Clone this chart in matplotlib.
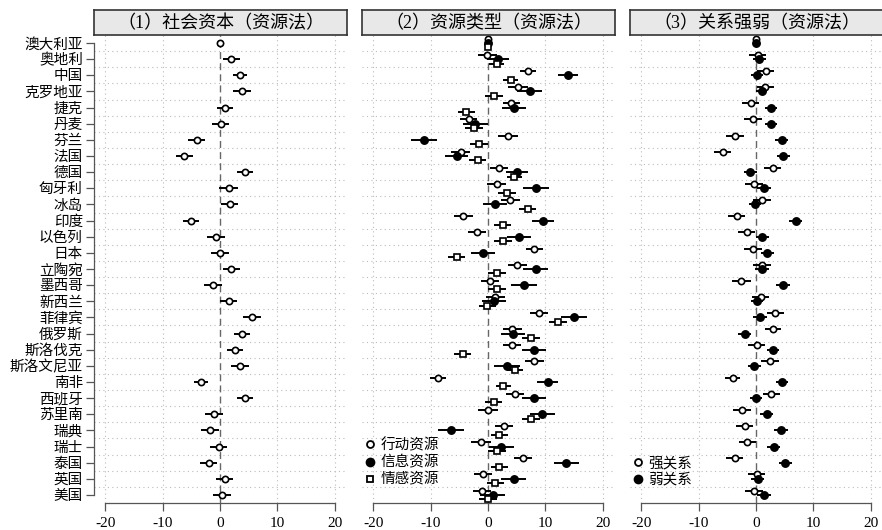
import matplotlib
matplotlib.use("Agg")
import matplotlib.pyplot as plt
from matplotlib.lines import Line2D
import numpy as np

plt.rcParams['font.family'] = ['Liberation Serif', 'Noto Sans CJK SC']

countries = ['澳大利亚', '奥地利', '中国', '克罗地亚', '捷克', '丹麦', '芬兰', '法国', '德国',
             '匈牙利', '冰岛', '印度', '以色列', '日本', '立陶宛', '墨西哥', '新西兰', '菲律宾',
             '俄罗斯', '斯洛伐克', '斯洛文尼亚', '南非', '西班牙', '苏里南', '瑞典', '瑞士',
             '泰国', '英国', '美国']

titles = ['（1）社会资本（资源法）', '（2）资源类型（资源法）', '（3）关系强弱（资源法）']
xticks = [-20, -10, 0, 10, 20]

# (1) social capital
social = [0, 2.0, 3.5, 3.8, 0.9, 0.1, -4.1, -6.2, 4.3, 1.5, 1.7, -5.1, -0.7, 0.0, 2.0,
          -1.2, 1.5, 5.6, 3.9, 2.6, 3.5, -3.3, 4.4, -1.0, -1.7, -0.2, -2.0, 0.8, 0.4]
social_ci = [0, 1.45, 1.25, 1.6, 1.45, 1.5, 1.55, 1.45, 1.4, 1.6, 1.5, 1.4, 1.55, 1.55, 1.55,
             1.6, 1.5, 1.5, 1.4, 1.45, 1.55, 1.25, 1.4, 1.6, 1.6, 1.5, 1.5, 1.5, 1.55]

# (2) resource types
action = [0, -0.1, 7.0, 5.2, 4.1, -3.4, 3.5, -4.8, 1.9, 1.5, 3.9, -4.3, -1.9, 8.1, 5.1,
          0.3, 1.3, 8.9, 4.2, 4.2, 8.1, -8.7, 4.7, 0.0, 2.8, -1.2, 6.1, -0.9, -1.0]
action_ci = [0, 1.6, 1.35, 1.75, 1.45, 1.5, 1.75, 1.6, 1.6, 1.65, 1.6, 1.6, 1.6, 1.55, 1.65,
             1.6, 1.6, 1.6, 1.65, 1.5, 1.7, 1.45, 1.55, 1.7, 1.65, 1.7, 1.6, 1.6, 1.6]
info = [0, 1.7, 14.0, 7.3, 4.5, -2.2, -11.2, -5.5, 5.1, 8.4, 1.3, 9.6, 5.4, -0.9, 8.3,
        6.3, 1.0, 15.0, 4.4, 8.0, 3.3, 10.4, 8.0, 9.5, -6.4, 2.3, 13.7, 4.5, 0.8]
info_ci = [0, 1.9, 1.7, 2.15, 2.05, 2.25, 2.3, 1.95, 1.95, 2.25, 2.1, 2.0, 2.1, 2.1, 2.25,
           2.25, 2.1, 2.2, 2.1, 2.15, 2.3, 1.8, 2.15, 2.25, 2.25, 2.2, 2.2, 2.15, 2.2]
emotion = [0, 1.5, 4.0, 1.0, -3.8, -2.5, -1.6, -1.8, 4.6, 3.3, 6.9, 2.6, 2.6, -5.5, 1.6,
           1.6, -0.1, 12.2, 7.5, -4.4, 4.7, 2.7, 1.0, 7.5, 2.0, 1.6, 2.0, 1.3, 0.0]
emotion_ci = [0, 1.35, 1.3, 1.6, 1.45, 1.55, 1.6, 1.5, 1.25, 1.55, 1.5, 1.5, 1.55, 1.5, 1.6,
              1.6, 1.55, 1.55, 1.5, 1.45, 1.45, 1.3, 1.45, 1.6, 1.5, 1.6, 1.5, 1.45, 1.5]

# (3) tie strength
strong = [0, 0.3, 1.7, 1.6, -0.9, -0.5, -3.7, -5.8, 2.9, -0.3, 1.1, -3.4, -1.6, -0.5, 1.1,
          -2.6, 0.8, 3.4, 3.0, 0.1, 2.4, -4.1, 2.7, -2.5, -2.0, -1.5, -3.7, 0.1, -0.3]
strong_ci = [0, 1.45, 1.45, 1.5, 1.5, 1.6, 1.55, 1.45, 1.45, 1.55, 1.55, 1.5, 1.5, 1.6, 1.55,
             1.65, 1.45, 1.45, 1.45, 1.45, 1.55, 1.35, 1.45, 1.6, 1.55, 1.55, 1.5, 1.45, 1.6]
weak = [0, 0.6, 0.1, 1.0, 2.6, 2.6, 4.5, 4.8, -1.0, 1.4, -0.2, 6.9, 1.1, 2.0, 1.0,
        4.7, 0.1, 0.7, -2.0, 2.9, -0.3, 4.5, 0.0, 1.9, 4.3, 3.1, 5.1, 0.3, 1.4]
weak_ci = [0, 1.1, 1.05, 1.0, 1.05, 1.1, 1.1, 1.1, 1.1, 1.15, 1.05, 1.1, 1.1, 1.1, 1.2,
           1.15, 1.05, 1.2, 1.1, 1.05, 1.15, 1.05, 1.05, 1.15, 1.2, 1.15, 1.1, 1.1, 1.15]

W, H = 882, 530
fig = plt.figure(figsize=(W / 100, H / 100), dpi=100)

lefts = [94, 362, 630]
pw = 252
top, bottom = 35, 503
rows = np.arange(len(countries))

panels = [
    [(social, social_ci, 'o', 'white', 0.0, None)],
    [(action, action_ci, 'o', 'white', -0.27, '行动资源'),
     (info, info_ci, 'o', 'black', 0.0, '信息资源'),
     (emotion, emotion_ci, 's', 'white', 0.27, '情感资源')],
    [(strong, strong_ci, 'o', 'white', -0.27, '强关系'),
     (weak, weak_ci, 'o', 'black', 0.0, '弱关系')],
]

for k in range(3):
    ax = fig.add_axes([lefts[k] / W, (H - bottom) / H, pw / W, (bottom - top) / H])
    ax.set_xlim(-22, 22)
    ax.set_ylim(28.5, -0.5)
    for s in ['top', 'right']:
        ax.spines[s].set_visible(False)
    ax.spines['bottom'].set_bounds(-20, 20)
    ax.spines['bottom'].set_linewidth(0.9)
    ax.spines['bottom'].set_color('#555555')
    ax.set_xticks(xticks)
    ax.set_xticklabels([str(t) for t in xticks])
    ax.tick_params(axis='x', length=6, width=0.9, color='#555555', labelsize=11, pad=4)

    # grid
    for gx in [-20, -10, 10, 20]:
        ax.axvline(gx, color='#bbbbbb', lw=0.8, ls=(0, (1, 3)), zorder=0)
    for gy in rows[:-1] + 0.5:
        ax.axhline(gy, color='#bbbbbb', lw=0.8, ls=(0, (1, 3)), zorder=0)
    ax.axvline(0, color='#666666', lw=1.0, ls=(0, (5, 3)), zorder=1)

    if k == 0:
        ax.spines['left'].set_bounds(0, 28)
        ax.spines['left'].set_linewidth(0.9)
        ax.spines['left'].set_color('#555555')
        ax.set_yticks(rows)
        ax.set_yticklabels(countries)
        ax.tick_params(axis='y', length=6, width=0.9, color='#555555', labelsize=10.5, pad=2)
    else:
        ax.spines['left'].set_visible(False)
        ax.set_yticks([])

    handles = []
    for est, ci, mk, fc, off, lab in panels[k]:
        ax.errorbar(est, rows + off, xerr=ci, fmt='none', ecolor='black',
                    elinewidth=1.4, capsize=0, zorder=3)
        ms = 5.2 if fc == 'black' else 4.5
        ax.plot(est, rows + off, ls='none', marker=mk, ms=ms, mfc=fc,
                mec='black', mew=1.2, zorder=4)
        if lab:
            handles.append(Line2D([], [], ls='none', marker=mk, ms=ms + 0.5, mfc=fc,
                                  mec='black', mew=1.3, label=lab))
    if handles:
        ax.legend(handles=handles, loc='lower left', bbox_to_anchor=(-0.03, 0.013),
                  frameon=False, fontsize=10.5, handlelength=0.8, handletextpad=0.3,
                  labelspacing=0.2, borderpad=0.2)

    # header strip
    hx = fig.add_axes([lefts[k] / W, (H - 35) / H, (pw + 1) / W, 25 / H])
    hx.set_facecolor('#e8e8e8')
    hx.set_xticks([])
    hx.set_yticks([])
    for s in hx.spines.values():
        s.set_linewidth(1.2)
        s.set_color('#333333')
    hx.text(0.5, 0.47, titles[k], ha='center', va='center', fontsize=13,
            transform=hx.transAxes)

fig.savefig('out.png', dpi=100)
